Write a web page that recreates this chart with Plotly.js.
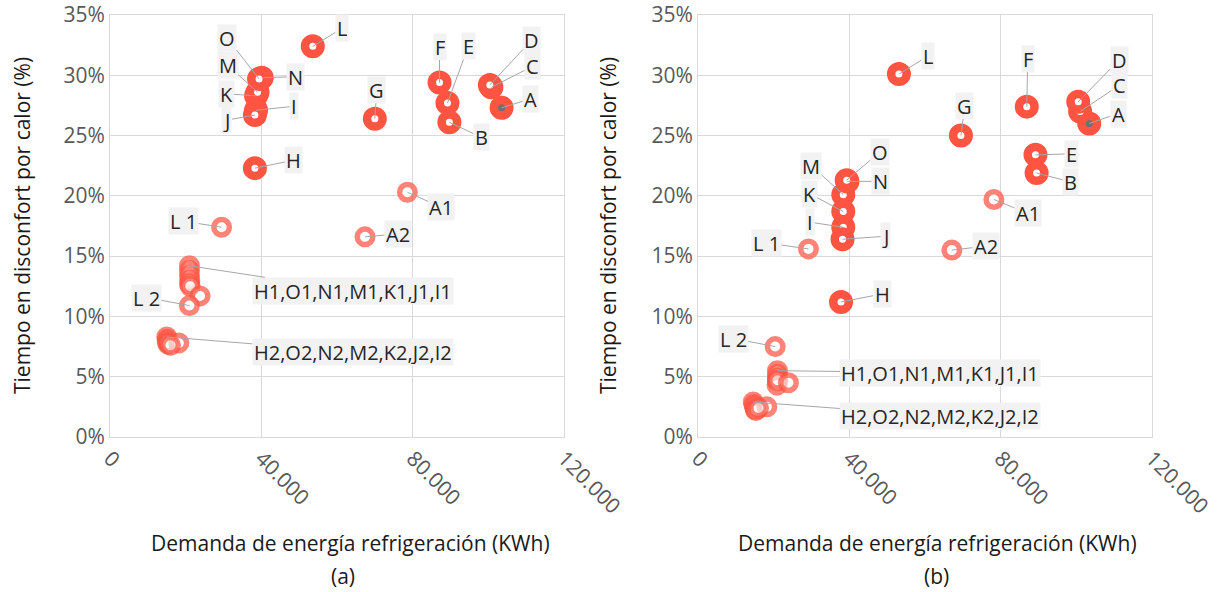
<!DOCTYPE html>
<html><head><meta charset="utf-8">
<script src="https://cdn.plot.ly/plotly-3.0.1.min.js"></script>
<style>body{margin:0;background:#fff}#chart{width:1223px;height:592px}</style>
</head><body><div id="chart"></div>
<script>
// ---------- DATA ----------
// Panel (a)
const mainNamesA = ['A','B','C','D','E','F','G','H','I','J','K','L','M','N','O'];
const mainXA = [103500, 89700, 100800, 100400, 89200, 87100, 70000, 38300, 38600, 38300, 38600, 53600, 39000, 40100, 39400];
const mainYA = [27.3, 26.1, 29.0, 29.2, 27.7, 29.4, 26.4, 22.3, 27.1, 26.7, 28.3, 32.4, 28.6, 29.8, 29.7];

const altNamesA = ['A1','L1','H1','O1','N1','M1','K1','J1','I1','A2','L2','H2','O2','N2','M2','K2','J2','I2'];
const altXA = [78600, 29500, 21000, 21000, 21000, 21100, 21000, 21200, 23800, 67400, 21000, 15000, 15100, 15200, 15300, 15400, 18200, 16000];
const altYA = [20.3, 17.4, 14.2, 13.8, 13.4, 13.0, 12.7, 12.5, 11.7, 16.6, 10.9, 8.3, 8.1, 7.9, 7.7, 7.8, 7.8, 7.6];

// Panel (b)
const mainNamesB = ['A','B','C','D','E','F','G','H','I','J','K','L','M','N','O'];
const mainXB = [103400, 89500, 101000, 100500, 89200, 86900, 69500, 37800, 38400, 38200, 38400, 53100, 38400, 39500, 39300];
const mainYB = [26.0, 21.9, 27.0, 27.8, 23.4, 27.4, 25.0, 11.2, 17.4, 16.4, 18.7, 30.1, 20.1, 21.2, 21.3];

const altNamesB = ['A1','L1','H1','O1','N1','M1','K1','J1','I1','A2','L2','H2','O2','N2','M2','K2','J2','I2'];
const altXB = [78200, 29200, 21000, 21000, 21000, 21000, 20900, 21000, 23900, 67100, 20400, 14600, 14800, 15000, 15100, 15300, 18200, 16000];
const altYB = [19.7, 15.6, 5.5, 5.2, 4.9, 4.6, 4.3, 4.7, 4.5, 15.5, 7.5, 2.9, 2.7, 2.5, 2.3, 2.2, 2.5, 2.4];

// Cluster labels (text shown for a group, attached to one point)
const clusterLabels = {H1: 'H1,O1,N1,M1,K1,J1,I1', H2: 'H2,O2,N2,M2,K2,J2,I2'};
const hiddenLabels = ['O1','N1','M1','K1','J1','I1','O2','N2','M2','K2','J2','I2'];

const xTickVals = [0, 40000, 80000, 120000];
const yTickVals = [0, 5, 10, 15, 20, 25, 30, 35];
const yTickText = ['0%', '5%', '10%', '15%', '20%', '25%', '30%', '35%'];

// ---------- LABEL OFFSETS (pixels, layout only) ----------
const offA = {
  L:[29,-18], O:[-32,-41], M:[-30,-27], K:[-30,-2], J:[-28,5], N:[34,-1], I:[38,-4], H:[39,-8],
  G:[2,-29], F:[0,-36], E:[21,-57], D:[42,-45], C:[41,-21], A:[29,-9], B:[32,15],
  A1:[34,15], A2:[33,-3], L1:[-38,-6], L2:[-43,-8], H1:[164,25], H2:[186,15]
};
const offB = {
  L:[29,-18], G:[4,-30], F:[1,-48], D:[41,-42], C:[39,-26], A:[29,-10], E:[36,-1], B:[34,9],
  A1:[34,14], A2:[34,-4], L1:[-42,-6], H:[41,-8], J:[43,-3], I:[-33,-5], K:[-34,-18], M:[-32,-29],
  O:[33,-28], N:[33,0], L2:[-42,-8], H1:[163,2], H2:[187,14]
};

// ---------- STYLE ----------
const RED = '#FF5442';
const LIGHT = 'rgba(255,84,66,0.72)';
const FONT = 'Open Sans, sans-serif';

function mainTrace(names, xs, ys, xa, ya) {
  return {
    type: 'scatter', mode: 'markers', x: xs, y: ys, text: names, xaxis: xa, yaxis: ya,
    hoverinfo: 'text+x+y', showlegend: false,
    marker: {size: 15.5, color: names.map(n => n === 'A' ? '#707070' : '#ffffff'),
             line: {color: RED, width: 8.5}}
  };
}
function altTrace(names, xs, ys, xa, ya) {
  return {
    type: 'scatter', mode: 'markers', x: xs, y: ys, text: names, xaxis: xa, yaxis: ya,
    hoverinfo: 'text+x+y', showlegend: false,
    marker: {size: 15.5, color: 'rgba(255,255,255,0.6)', line: {color: LIGHT, width: 5.5}}
  };
}
function labels(names, xs, ys, offs, xref, yref) {
  const out = [];
  names.forEach((n, i) => {
    if (hiddenLabels.includes(n)) return;
    const o = offs[n]; if (!o) return;
    out.push({
      x: xs[i], y: ys[i], xref: xref, yref: yref,
      text: clusterLabels[n] || (n.length === 2 && n[0] === 'L' ? 'L ' + n[1] : n),
      showarrow: true, arrowhead: 0, arrowwidth: 1, arrowcolor: '#A6A6A6',
      ax: o[0], ay: o[1], standoff: 0,
      bgcolor: '#F2F2F2', borderpad: 1, height: 24,
      font: {family: FONT, size: 20, color: '#262626'}
    });
  });
  return out;
}

const data = [
  altTrace(altNamesA, altXA, altYA, 'x', 'y'),
  mainTrace(mainNamesA, mainXA, mainYA, 'x', 'y'),
  altTrace(altNamesB, altXB, altYB, 'x2', 'y2'),
  mainTrace(mainNamesB, mainXB, mainYB, 'x2', 'y2')
];

const xAxisBase = {
  range: [0, 120000], tickvals: xTickVals, tickformat: ',d', tickangle: 45,
  showgrid: true, gridcolor: '#D9D9D9', zeroline: false,
  showline: true, linecolor: '#D9D9D9', mirror: true, ticks: '',
  tickfont: {family: FONT, size: 21, color: '#595959'}, fixedrange: true
};
const yAxisBase = {
  range: [0, 35], tickvals: yTickVals, ticktext: yTickText, tickmode: 'array',
  showgrid: true, gridcolor: '#D9D9D9', zeroline: false,
  showline: true, linecolor: '#D9D9D9', mirror: true, ticks: '',
  tickfont: {family: FONT, size: 21, color: '#595959'}, fixedrange: true
};

const titleFont = {family: FONT, size: 21, color: '#1a1a1a'};
const textAnn = [
  {text: 'Demanda de energía refrigeración (KWh)', x: 350, py: 543},
  {text: 'Demanda de energía refrigeración (KWh)', x: 937, py: 543},
  {text: '(a)', x: 343, py: 576},
  {text: '(b)', x: 936, py: 576}
].map(a => ({text: a.text, xref: 'paper', yref: 'paper', x: a.x / 1223, y: (437 - a.py) / 422,
  showarrow: false, font: titleFont, xanchor: 'center', yanchor: 'middle'}));
const yTitles = [22, 608].map(px => ({
  text: 'Tiempo en disconfort por calor (%)', xref: 'paper', yref: 'paper',
  x: px / 1223, y: 0.5, textangle: -90, showarrow: false, font: titleFont,
  xanchor: 'center', yanchor: 'middle'
}));

const layout = {
  width: 1223, height: 592,
  margin: {l: 0, r: 0, t: 15, b: 155},
  paper_bgcolor: '#ffffff', plot_bgcolor: '#ffffff',
  separators: ',.',
  showlegend: false,
  xaxis: Object.assign({}, xAxisBase, {domain: [110/1223, 564/1223], anchor: 'y'}),
  yaxis: Object.assign({}, yAxisBase, {domain: [0, 1], anchor: 'x'}),
  xaxis2: Object.assign({}, xAxisBase, {domain: [698/1223, 1152/1223], anchor: 'y2'}),
  yaxis2: Object.assign({}, yAxisBase, {domain: [0, 1], anchor: 'x2'}),
  annotations: [].concat(
    labels(altNamesA, altXA, altYA, offA, 'x', 'y'),
    labels(mainNamesA, mainXA, mainYA, offA, 'x', 'y'),
    labels(altNamesB, altXB, altYB, offB, 'x2', 'y2'),
    labels(mainNamesB, mainXB, mainYB, offB, 'x2', 'y2'),
    textAnn, yTitles
  )
};

Plotly.newPlot('chart', data, layout, {displayModeBar: false, staticPlot: true});
</script>
</body></html>
